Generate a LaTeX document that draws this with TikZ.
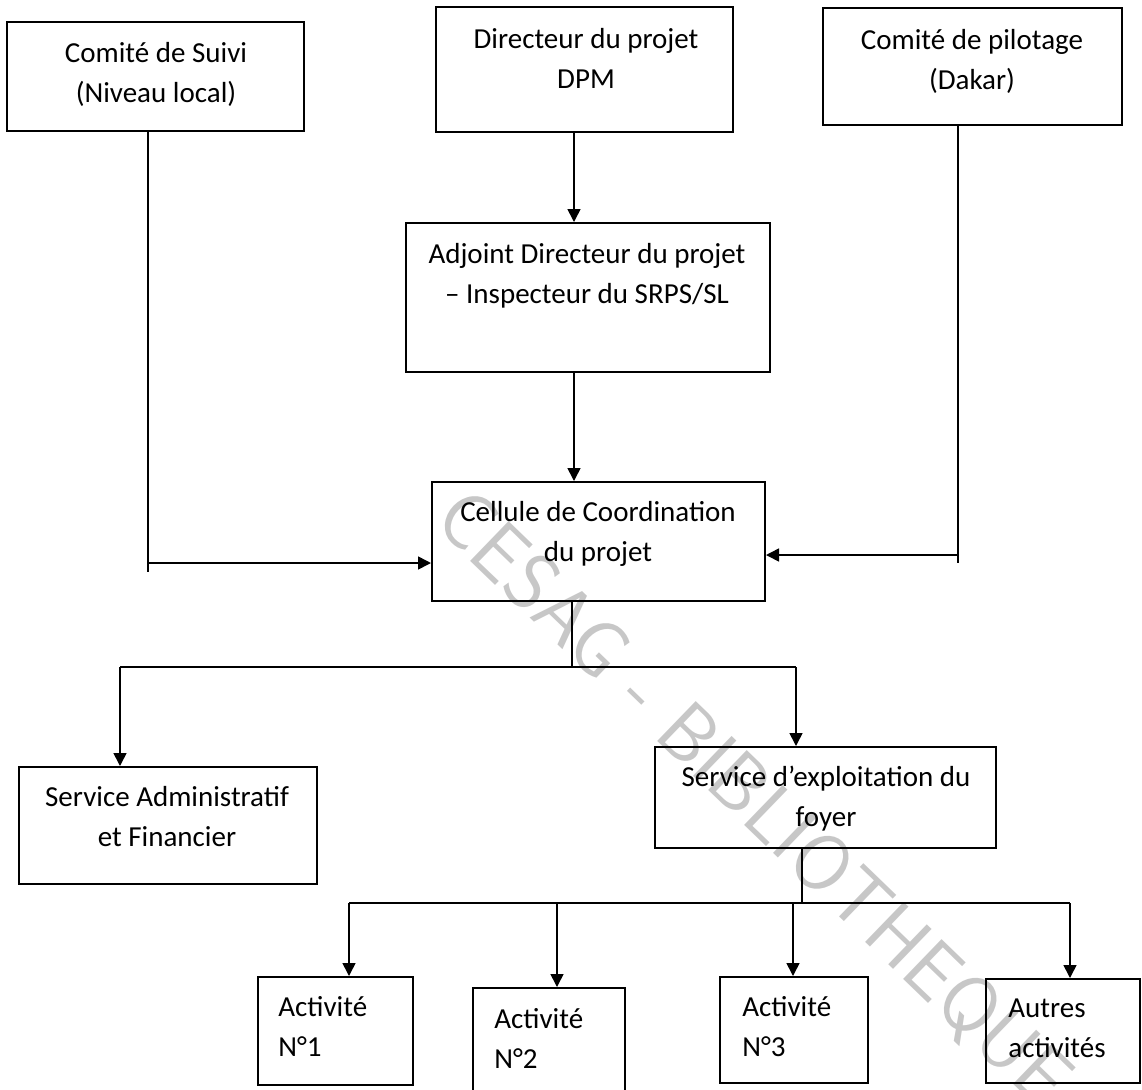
\documentclass[tikz,border=0pt]{standalone}
\usepackage{fontspec}
\setmainfont{Carlito}
\usetikzlibrary{arrows.meta,positioning,fit,calc}

\begin{document}
\begin{tikzpicture}[x=0.5pt,y=-0.5pt,
  box/.style={draw, line width=1pt, inner sep=0pt},
  txt/.style={anchor=north, inner sep=0pt, align=center, font=\fontsize{14.5pt}{20pt}\selectfont},
  txtl/.style={txt, anchor=north west, align=left},
  link/.style={line width=0.8pt},
  arr/.style={link, -{Triangle[length=6.5pt,width=6.5pt]}}]
\useasboundingbox (0,0) rectangle (1142,1089);
% watermark
\node[rotate=-44, text=black!22, font=\sffamily\fontsize{40pt}{40pt}\selectfont] (wm) at (752,800) {CESAG - BIBLIOTHEQUE};
% boxes
\node[box, fit={(7,22) (304,131)}] (suivi) {};
\node[box, fit={(436,7) (733,132)}] (dir) {};
\node[box, fit={(823,8) (1122,125)}] (pil) {};
\node[box, fit={(406,223) (770,372)}] (adj) {};
\node[box, fit={(432,482) (765,601)}] (cell) {};
\node[box, fit={(19,767) (317,884)}] (saf) {};
\node[box, fit={(655,747) (996,848)}] (exp) {};
\node[box, fit={(258,977) (413,1085)}] (a1) {};
\node[box, fit={(473,988) (625,1100)}] (a2) {};
\node[box, fit={(720,977) (868,1083)}] (a3) {};
\node[box, fit={(986,979) (1140,1083)}] (a4) {};
% texts
\node[txt] (suivi-t) at (156,42) {Comité de Suivi\\(Niveau local)};
\node[txt] (dir-t) at (586,28) {Directeur du projet\\DPM};
\node[txt] (pil-t) at (972,29) {Comité de pilotage\\(Dakar)};
\node[txt] (adj-t) at (587,243) {Adjoint Directeur du projet\\– Inspecteur du SRPS/SL};
\node[txt] (cell-t) at (598,501) {Cellule de Coordination\\du projet};
\node[txt] (saf-t) at (167,786) {Service Administratif\\et Financier};
\node[txt] (exp-t) at (826,766) {Service d’exploitation du\\foyer};
\node[txtl] (a1-t) at (278,996) {Activité\\N°1};
\node[txtl] (a2-t) at (494,1008) {Activité\\N°2};
\node[txtl] (a3-t) at (742,996) {Activité\\N°3};
\node[txtl] (a4-t) at (1008,998) {Autres\\activités};
% connectors
\coordinate (tk) at (574,0);
\draw[arr] (dir.south -| tk) -- (adj.north -| tk);
\draw[arr] (adj.south -| tk) -- (cell.north -| tk);
\coordinate (jl) at (148,563);
\draw[link] (suivi.south -| jl) -- ($(jl)+(0,9)$);
\draw[arr] (jl) -- (cell.west |- jl);
\coordinate (jr) at (958,555);
\draw[link] (pil.south -| jr) -- ($(jr)+(0,8)$);
\draw[arr] (jr) -- (cell.east |- jr);
\coordinate (b1) at (572,667);
\coordinate (b1l) at (120,667);
\coordinate (b1r) at (796,667);
\draw[link] (cell.south -| b1) -- (b1);
\draw[link] (b1l) -- (b1r);
\draw[arr] (b1l) -- (saf.north -| b1l);
\draw[arr] (b1r) -- (exp.north -| b1r);
\coordinate (b2) at (802,903);
\draw[link] (exp.south -| b2) -- (b2);
\draw[link] (349,903) coordinate (b2l) -- (1070,903) coordinate (b2r);
\foreach \x/\n in {349/a1,557/a2,793/a3,1070/a4} {
  \coordinate (c\n) at (\x,903);
  \draw[arr] (c\n) -- (\n.north -| c\n);
}
\end{tikzpicture}
\end{document}
